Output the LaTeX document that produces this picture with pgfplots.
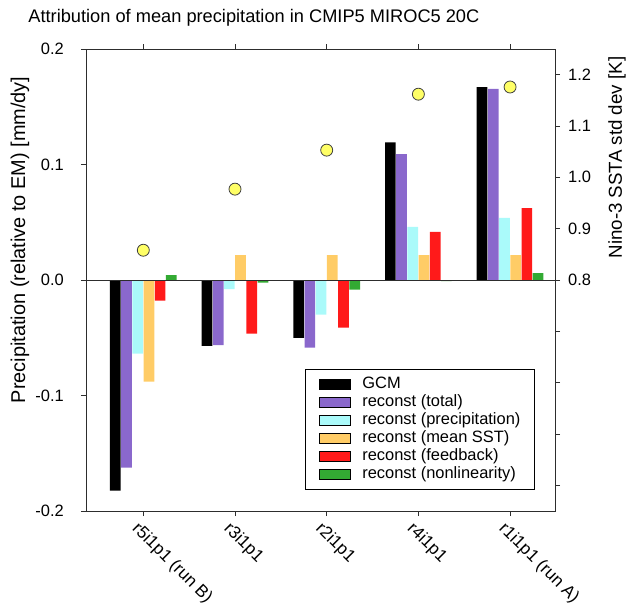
\documentclass[border=0pt]{standalone}
\usepackage{fontspec}
\setmainfont{Liberation Sans}
\usepackage{pgfplots}
\pgfplotsset{compat=1.18}

\definecolor{cgcm}{RGB}{0,0,0}
\definecolor{ctotal}{RGB}{138,104,204}
\definecolor{cprecip}{RGB}{170,250,250}
\definecolor{csst}{RGB}{255,204,102}
\definecolor{cfeed}{RGB}{255,26,26}
\definecolor{cnonlin}{RGB}{51,170,51}
\definecolor{cdot}{RGB}{255,255,102}
\definecolor{caxis}{RGB}{45,45,45}

\pgfplotsset{
  swatch/.style={legend image code/.code={%
    \draw[##1,draw=black,line width=0.8pt] (0bp,-5.2bp) rectangle (31bp,5.2bp);}},
}

\begin{document}
\begin{tikzpicture}[font=\fontsize{16.5}{19}\selectfont]
\begin{axis}[
  scale only axis, width=469bp, height=462bp,
  xmin=-0.625, xmax=4.49, ymin=-0.2, ymax=0.2,
  axis line style={caxis, line width=0.8pt},
  xtick={0,1,2,3,4},
  xticklabels={r5i1p1 (run B), r3i1p1, r2i1p1, r4i1p1, r1i1p1 (run A)},
  xtick pos=both,
  ytick={-0.2,-0.1,0,0.1,0.2},
  yticklabels={-0.2,-0.1,0.0,0.1,0.2},
  ytick pos=left,
  tick align=outside,
  major tick length=5bp,
  tick style={caxis, line width=0.7pt},
  xticklabel style={rotate=-45, anchor=north west, inner sep=1bp,
    yshift=-4bp, font=\fontsize{17.3}{20}\selectfont},
  yticklabel style={inner sep=2bp, xshift=-15bp},
  ybar, bar width=10.7bp,
  title={Attribution of mean precipitation in CMIP5 MIROC5 20C},
  title style={at={(axis description cs:0.358,1)}, anchor=base, yshift=21bp,
    font=\fontsize{18.3}{20}\selectfont},
  ylabel={Precipitation (relative to EM) [mm/dy]},
  ylabel style={at={(axis description cs:-0.141,0.587)}, anchor=center,
    font=\fontsize{20}{22}\selectfont},
  legend style={draw=black, line width=0.8pt, fill=white,
    at={(axis description cs:0.957,0.308)}, anchor=north east,
    font=\fontsize{16.5}{18}\selectfont,
    inner xsep=13.5bp, inner ysep=6bp, row sep=0bp,
    nodes={inner sep=0.5bp, text height=12.5bp, text depth=4.5bp},
    /tikz/every odd column/.append style={column sep=11bp}},
  legend cell align=left,
]
% GCM
\addplot[fill=cgcm, draw=none, bar shift=-28bp, swatch]
  coordinates {(0,-0.1824)(1,-0.0571)(2,-0.0500)(3,0.1192)(4,0.1670)};
\addlegendentry{GCM}
% reconst (total)
\addplot[fill=ctotal, draw=none, bar shift=-16.8bp, swatch]
  coordinates {(0,-0.1625)(1,-0.0563)(2,-0.0586)(3,0.1090)(4,0.1654)};
\addlegendentry{reconst (total)}
% reconst (precipitation)
\addplot[fill=cprecip, draw=none, bar shift=-5.6bp, swatch]
  coordinates {(0,-0.0638)(1,-0.0078)(2,-0.0300)(3,0.0459)(4,0.0537)};
\addlegendentry{reconst (precipitation)}
% reconst (mean SST)
\addplot[fill=csst, draw=none, bar shift=5.6bp, swatch]
  coordinates {(0,-0.0880)(1,0.0216)(2,0.0216)(3,0.0216)(4,0.0216)};
\addlegendentry{reconst (mean SST)}
% reconst (feedback)
\addplot[fill=cfeed, draw=none, bar shift=16.8bp, swatch]
  coordinates {(0,-0.0179)(1,-0.0465)(2,-0.0413)(3,0.0416)(4,0.0623)};
\addlegendentry{reconst (feedback)}
% reconst (nonlinearity)
\addplot[fill=cnonlin, draw=none, bar shift=28bp, swatch]
  coordinates {(0,0.0043)(1,-0.0023)(2,-0.0084)(3,-0.0010)(4,0.0060)};
\addlegendentry{reconst (nonlinearity)}

\draw[caxis, line width=0.8pt] (axis cs:-0.625,0) -- (axis cs:4.49,0);
\end{axis}

\begin{axis}[
  scale only axis, width=469bp, height=462bp,
  xmin=-0.625, xmax=4.49, ymin=0.35, ymax=1.25,
  axis x line=none, axis y line*=right,
  axis line style={caxis, line width=0.8pt},
  ytick={0.4,0.5,0.6,0.7,0.8,0.9,1.0,1.1,1.2},
  yticklabels={,,,,0.8,0.9,1.0,1.1,1.2},
  tick align=outside,
  major tick length=5bp,
  tick style={caxis, line width=0.7pt},
  yticklabel style={inner sep=2bp, xshift=6bp},
  ylabel={Nino-3 SSTA std dev [K]},
  ylabel style={at={(axis description cs:1.132,0.765)}, anchor=center,
    font=\fontsize{18.8}{22}\selectfont},
]
\addplot[only marks, mark=*, mark size=6bp,
  mark options={fill=cdot, draw=black!75, line width=0.8pt}]
  coordinates {(0,0.858)(1,0.977)(2,1.053)(3,1.162)(4,1.176)};
\end{axis}

\pgfresetboundingbox
\path[use as bounding box] (-86bp,-97bp) rectangle (541bp,511bp);
\end{tikzpicture}
\end{document}
